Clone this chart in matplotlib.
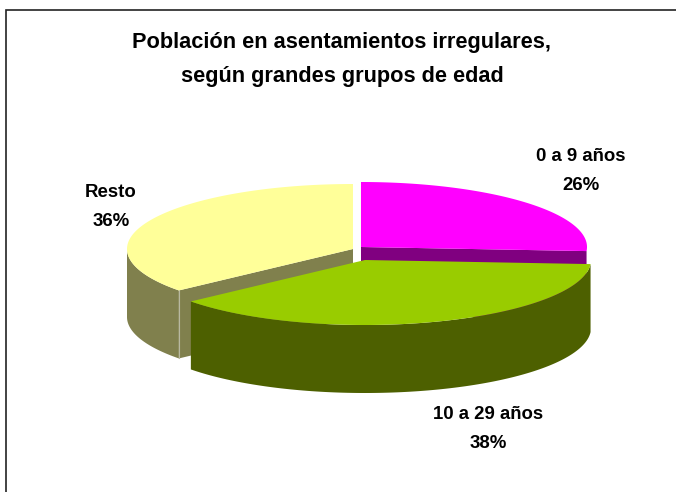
import numpy as np
import matplotlib
matplotlib.use("Agg")
import matplotlib.pyplot as plt
from matplotlib.patches import Polygon

plt.rcParams["font.family"] = ["Liberation Sans", "DejaVu Sans"]

# Data
title = "Población en asentamientos irregulares,\nsegún grandes grupos de edad"
groups = ["0 a 9 años", "10 a 29 años", "Resto"]
values = [26, 38, 36]

top_colors = ["#FF00FF", "#99CC00", "#FFFF99"]
side_colors = ["#800080", "#4D6000", "#80804D"]

# slice centres in pixels (exploded pie), label centres
centers = [(361, 247), (365, 260), (353, 249)]
label_pos = [(581, 171), (488, 429), (111, 207)]

RX = 226
RY = 65
DEPTH = 68

fig = plt.figure(figsize=(6.76, 4.92), dpi=100)
ax = fig.add_axes([0, 0, 1, 1])
ax.set_xlim(0, 676)
ax.set_ylim(492, 0)
ax.axis("off")

# clockwise from 12 o'clock
edges = np.cumsum([0] + values) / sum(values) * 2 * np.pi


def rim(i, start=None, stop=None):
    a0 = edges[i] if start is None else start
    a1 = edges[i + 1] if stop is None else stop
    t = np.linspace(a0, a1, 120)
    cx, cy = centers[i]
    return np.column_stack([cx + RX * np.sin(t), cy - RY * np.cos(t)])


def wall(pts, color, z):
    low = pts + [0, DEPTH]
    ax.add_patch(Polygon(np.vstack([pts, low[::-1]]), closed=True, fc=color, ec="none", zorder=z))


def cut_wall(i, angle, z):
    cx, cy = centers[i]
    end = rim(i, angle, angle)[0]
    wall(np.array([[cx, cy], end]), side_colors[i], z)


def top(i, z):
    pts = np.vstack([[centers[i]], rim(i)])
    ax.add_patch(Polygon(pts, closed=True, fc=top_colors[i], ec="none", zorder=z))


# Resto
wall(rim(2, edges[2], np.pi * 1.5), side_colors[2], 1)
cut_wall(2, edges[2], 2)
corner = rim(2, edges[2], edges[2])[0]
ax.plot([corner[0]] * 2, [corner[1], corner[1] + DEPTH], color="#B8B8A0", lw=0.8, zorder=3)
top(2, 4)

# 0 a 9 años
cut_wall(0, edges[1], 2)
top(0, 4)

# 10 a 29 años, in front of the others
wall(rim(1), side_colors[1], 5)
top(1, 6)

# Frame, right and bottom sides fall outside the picture
ax.plot([6, 6, 676], [492, 10, 10], color="#222222", lw=1.2, zorder=7, solid_joinstyle="miter")

ax.text(342, 59.5, title, ha="center", va="center", fontsize=15.7, fontweight="bold",
        color="black", linespacing=1.84)

for name, val, (x, y) in zip(groups, values, label_pos):
    ax.text(x, y, f"{name}\n{val}%", ha="center", va="center", fontsize=13.4, fontweight="bold",
            color="black", linespacing=1.87)

fig.savefig("out.png", dpi=100)
